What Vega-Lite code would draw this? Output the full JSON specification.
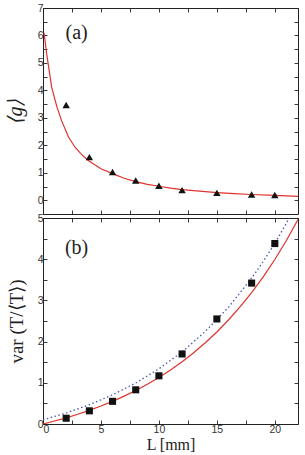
{
  "$schema": "https://vega.github.io/schema/vega-lite/v6.json",
  "padding": {"left": 4, "top": 2, "right": 5, "bottom": 0},
  "bounds": "flush",
  "spacing": 4,
  "config": {
    "view": {"stroke": "#222222", "strokeWidth": 1},
    "axis": {
      "grid": false,
      "domain": false,
      "tickColor": "#222222",
      "tickSize": -4,
      "tickWidth": 0.9,
      "labelFont": "Liberation Sans",
      "labelFontSize": 10.5,
      "labelColor": "#333333",
      "labelPadding": 4,
      "titleFont": "Liberation Serif",
      "titleFontWeight": "normal",
      "titleFontSize": 17,
      "titleColor": "#222222"
    }
  },
  "datasets": {
    "g_meas": [
      {"L": 2, "g": 3.47}, {"L": 4, "g": 1.57}, {"L": 6, "g": 1.03},
      {"L": 8, "g": 0.72}, {"L": 10, "g": 0.53}, {"L": 12, "g": 0.37},
      {"L": 15, "g": 0.27}, {"L": 18, "g": 0.21}, {"L": 20, "g": 0.19}
    ],
    "g_fit": [
      {"L": 0.09, "g": 6.1}, {"L": 0.32, "g": 5.32}, {"L": 0.75, "g": 4.11},
      {"L": 1.2, "g": 3.4}, {"L": 1.6, "g": 2.9}, {"L": 2.2, "g": 2.3},
      {"L": 2.76, "g": 1.93}, {"L": 3.3, "g": 1.68}, {"L": 3.9, "g": 1.45},
      {"L": 5, "g": 1.15}, {"L": 6, "g": 0.97}, {"L": 7, "g": 0.8},
      {"L": 8, "g": 0.68}, {"L": 9, "g": 0.58}, {"L": 10, "g": 0.51},
      {"L": 11, "g": 0.44}, {"L": 12, "g": 0.39}, {"L": 13.5, "g": 0.33},
      {"L": 15, "g": 0.28}, {"L": 16.5, "g": 0.24}, {"L": 18, "g": 0.21},
      {"L": 20, "g": 0.18}, {"L": 22, "g": 0.145}
    ],
    "var_meas": [
      {"L": 2, "v": 0.14}, {"L": 4, "v": 0.32}, {"L": 6, "v": 0.55},
      {"L": 8, "v": 0.83}, {"L": 10, "v": 1.17}, {"L": 12, "v": 1.7},
      {"L": 15, "v": 2.55}, {"L": 18, "v": 3.42}, {"L": 20, "v": 4.38}
    ],
    "var_fit": [
      {"L": 0, "v": 0}, {"L": 1, "v": 0.072}, {"L": 2, "v": 0.15},
      {"L": 3, "v": 0.237}, {"L": 4, "v": 0.332}, {"L": 5, "v": 0.436},
      {"L": 6, "v": 0.55}, {"L": 7, "v": 0.676}, {"L": 8, "v": 0.813},
      {"L": 9, "v": 0.964}, {"L": 10, "v": 1.129}, {"L": 11, "v": 1.311},
      {"L": 12, "v": 1.511}, {"L": 13, "v": 1.73}, {"L": 14, "v": 1.971},
      {"L": 15, "v": 2.234}, {"L": 16, "v": 2.524}, {"L": 17, "v": 2.842},
      {"L": 18, "v": 3.191}, {"L": 19, "v": 3.573}, {"L": 20, "v": 3.993},
      {"L": 21, "v": 4.455}, {"L": 22, "v": 4.961}
    ],
    "var_model": [
      {"L": 0, "v": 0.1}, {"L": 2, "v": 0.267}, {"L": 4, "v": 0.468},
      {"L": 6, "v": 0.708}, {"L": 8, "v": 0.995}, {"L": 10, "v": 1.339},
      {"L": 12, "v": 1.751}, {"L": 14, "v": 2.244}, {"L": 16, "v": 2.834},
      {"L": 18, "v": 3.541}, {"L": 19, "v": 3.945}, {"L": 20, "v": 4.387},
      {"L": 21, "v": 4.871}, {"L": 22, "v": 5.4}
    ],
    "tags": [
      {"panel": "a", "L": 2.9, "v": 6.1, "tag": "(a)"},
      {"panel": "b", "L": 2.9, "v": 4.27, "tag": "(b)"}
    ]
  },
  "vconcat": [
    {
      "width": 255,
      "height": 206,
      "layer": [
        {
          "data": {"name": "g_fit"},
          "mark": {"type": "line", "color": "#e0322d", "strokeWidth": 1.2, "clip": true},
          "encoding": {
            "x": {"field": "L", "type": "quantitative",
                  "scale": {"domain": [0, 22], "nice": false},
                  "axis": {"orient": "bottom", "values": [0, 2.5, 5, 7.5, 10, 12.5, 15, 17.5, 20], "labels": false, "title": null}},
            "y": {"field": "g", "type": "quantitative",
                  "scale": {"domain": [-0.5, 7], "nice": false, "zero": false},
                  "axis": {"orient": "left", "values": [0, 0.5, 1, 1.5, 2, 2.5, 3, 3.5, 4, 4.5, 5, 5.5, 6, 6.5, 7],
                           "labelExpr": "datum.value % 1 === 0 ? format(datum.value, 'd') : ''",
                           "title": "⟨g⟩", "titleFontStyle": "italic", "titleFontSize": 20, "titlePadding": 12}}
          }
        },
        {
          "data": {"name": "g_meas"},
          "mark": {"type": "point", "shape": "triangle-up", "filled": true, "color": "#111111", "opacity": 1, "size": 55},
          "encoding": {
            "x": {"field": "L", "type": "quantitative",
                  "scale": {"domain": [0, 22], "nice": false},
                  "axis": {"orient": "top", "values": [0, 2.5, 5, 7.5, 10, 12.5, 15, 17.5, 20], "labels": false, "title": null}},
            "y": {"field": "g", "type": "quantitative",
                  "scale": {"domain": [-0.5, 7], "nice": false, "zero": false},
                  "axis": {"orient": "right", "values": [0, 0.5, 1, 1.5, 2, 2.5, 3, 3.5, 4, 4.5, 5, 5.5, 6, 6.5, 7], "labels": false, "title": null}}
          }
        },
        {
          "data": {"name": "tags"},
          "transform": [{"filter": "datum.panel === 'a'"}],
          "mark": {"type": "text", "font": "Liberation Serif", "fontSize": 20, "color": "#222222", "align": "center", "baseline": "middle"},
          "encoding": {
            "x": {"field": "L", "type": "quantitative", "scale": {"domain": [0, 22], "nice": false}, "axis": null},
            "y": {"field": "v", "type": "quantitative", "scale": {"domain": [-0.5, 7], "nice": false, "zero": false}, "axis": null},
            "text": {"field": "tag"}
          }
        }
      ],
      "resolve": {"axis": {"x": "independent", "y": "independent"}}
    },
    {
      "width": 255,
      "height": 206,
      "layer": [
        {
          "data": {"name": "var_model"},
          "mark": {"type": "line", "color": "#4a57a8", "strokeWidth": 1.3, "strokeDash": [1.5, 2.5], "clip": true},
          "encoding": {
            "x": {"field": "L", "type": "quantitative",
                  "scale": {"domain": [0, 22], "nice": false},
                  "axis": {"orient": "bottom", "values": [0, 2.5, 5, 7.5, 10, 12.5, 15, 17.5, 20],
                           "labelExpr": "datum.value % 5 === 0 ? format(datum.value, 'd') : ''",
                           "title": "L [mm]", "titleFontSize": 16, "titlePadding": 2}},
            "y": {"field": "v", "type": "quantitative",
                  "scale": {"domain": [0, 5], "nice": false},
                  "axis": {"orient": "left", "values": [0, 0.5, 1, 1.5, 2, 2.5, 3, 3.5, 4, 4.5, 5],
                           "labelExpr": "datum.value % 1 === 0 ? format(datum.value, 'd') : ''",
                           "title": "var (T/⟨T⟩)", "titleFontSize": 19, "titlePadding": 11}}
          }
        },
        {
          "data": {"name": "var_fit"},
          "mark": {"type": "line", "color": "#e0322d", "strokeWidth": 1.2, "clip": true},
          "encoding": {
            "x": {"field": "L", "type": "quantitative",
                  "scale": {"domain": [0, 22], "nice": false},
                  "axis": {"orient": "top", "values": [0, 2.5, 5, 7.5, 10, 12.5, 15, 17.5, 20], "labels": false, "title": null}},
            "y": {"field": "v", "type": "quantitative",
                  "scale": {"domain": [0, 5], "nice": false},
                  "axis": {"orient": "right", "values": [0, 0.5, 1, 1.5, 2, 2.5, 3, 3.5, 4, 4.5, 5], "labels": false, "title": null}}
          }
        },
        {
          "data": {"name": "var_meas"},
          "mark": {"type": "point", "shape": "square", "filled": true, "color": "#111111", "opacity": 1, "size": 50},
          "encoding": {
            "x": {"field": "L", "type": "quantitative", "scale": {"domain": [0, 22], "nice": false}, "axis": null},
            "y": {"field": "v", "type": "quantitative", "scale": {"domain": [0, 5], "nice": false}, "axis": null}
          }
        },
        {
          "data": {"name": "tags"},
          "transform": [{"filter": "datum.panel === 'b'"}],
          "mark": {"type": "text", "font": "Liberation Serif", "fontSize": 20, "color": "#222222", "align": "center", "baseline": "middle"},
          "encoding": {
            "x": {"field": "L", "type": "quantitative", "scale": {"domain": [0, 22], "nice": false}, "axis": null},
            "y": {"field": "v", "type": "quantitative", "scale": {"domain": [0, 5], "nice": false}, "axis": null},
            "text": {"field": "tag"}
          }
        }
      ],
      "resolve": {"axis": {"x": "independent", "y": "independent"}}
    }
  ]
}
